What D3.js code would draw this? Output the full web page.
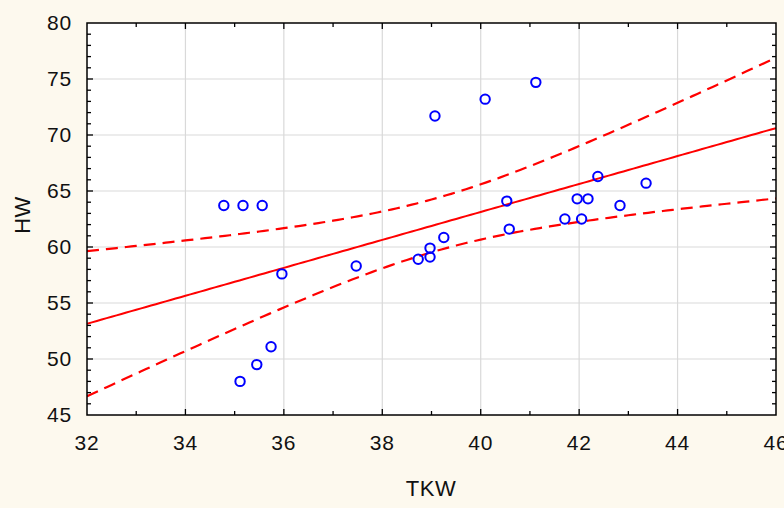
<!DOCTYPE html>
<html>
<head>
<meta charset="utf-8">
<script src="https://cdn.jsdelivr.net/npm/d3@7"></script>
<style>
  body { margin: 0; background: #fdf9ee; }
  svg { display: block; }
  text { font-family: "Liberation Sans", Arial, sans-serif; fill: #111; }
</style>
</head>
<body>
<svg id="chart" width="784" height="508"></svg>
<script>
// Data
const tkw = [34.78, 35.17, 35.56, 35.96, 35.11, 35.45, 35.74, 37.47,
             38.73, 38.97, 38.97, 39.25, 39.07, 40.09, 41.12, 40.53,
             40.58, 41.71, 42.05, 41.96, 42.18, 42.38, 42.83, 43.36];
const hw  = [63.7, 63.7, 63.7, 57.6, 48.0, 49.5, 51.1, 58.3,
             58.9, 59.9, 59.1, 60.85, 71.7, 73.2, 74.7, 64.1,
             61.6, 62.5, 62.5, 64.3, 64.3, 66.3, 63.7, 65.7];
const xTicks = [32, 34, 36, 38, 40, 42, 44, 46];
const yTicks = [45, 50, 55, 60, 65, 70, 75, 80];

const margin = {top: 23, right: 8, bottom: 93, left: 87};
const W = 784, H = 508;
const width = W - margin.left - margin.right;
const height = H - margin.top - margin.bottom;

const svg = d3.select('#chart');
const g = svg.append('g').attr('transform', `translate(${margin.left},${margin.top})`);

const x = d3.scaleLinear().domain([32, 46]).range([0, width]);
const y = d3.scaleLinear().domain([45, 80]).range([height, 0]);

// Plot area
g.append('rect').attr('width', width).attr('height', height).attr('fill', '#fff');

g.append('clipPath').attr('id', 'clip')
  .append('rect').attr('width', width).attr('height', height);

// Gridlines
g.append('g').selectAll('line').data(xTicks.slice(1, -1)).join('line')
  .attr('x1', d => x(d)).attr('x2', d => x(d)).attr('y1', 0).attr('y2', height)
  .attr('stroke', '#d9d9d9').attr('stroke-width', 1.2);
g.append('g').selectAll('line').data(yTicks.slice(1, -1)).join('line')
  .attr('y1', d => y(d)).attr('y2', d => y(d)).attr('x1', 0).attr('x2', width)
  .attr('stroke', '#d9d9d9').attr('stroke-width', 1.2);

// Linear regression with 95% confidence band for the mean
const n = tkw.length;
const mx = d3.mean(tkw), my = d3.mean(hw);
let sxx = 0, sxy = 0;
tkw.forEach((v, i) => { sxx += (v - mx) ** 2; sxy += (v - mx) * (hw[i] - my); });
const b = sxy / sxx, a = my - b * mx;
let sse = 0;
tkw.forEach((v, i) => { sse += (hw[i] - (a + b * v)) ** 2; });
const s = Math.sqrt(sse / (n - 2));
const tval = 2.074; // t(0.975, df = 22)
const grid = d3.range(32, 46.001, 0.1);
const band = grid.map(v => {
  const fit = a + b * v;
  const h = tval * s * Math.sqrt(1 / n + (v - mx) ** 2 / sxx);
  return {x: v, fit, lo: fit - h, hi: fit + h};
});

const plot = g.append('g').attr('clip-path', 'url(#clip)');
const line = key => d3.line().x(d => x(d.x)).y(d => y(d[key]));

plot.append('path').datum(band).attr('d', line('fit'))
  .attr('fill', 'none').attr('stroke', '#ff0000').attr('stroke-width', 2);
['hi', 'lo'].forEach(k => {
  plot.append('path').datum(band).attr('d', line(k))
    .attr('fill', 'none').attr('stroke', '#ff0000').attr('stroke-width', 2.2)
    .attr('stroke-dasharray', '12,7');
});

// Points
g.append('g').selectAll('circle').data(tkw).join('circle')
  .attr('cx', d => x(d)).attr('cy', (d, i) => y(hw[i])).attr('r', 4.7)
  .attr('fill', 'none').attr('stroke', '#0000ff').attr('stroke-width', 2);

// Frame and inward ticks
g.append('rect').attr('width', width).attr('height', height)
  .attr('fill', 'none').attr('stroke', '#000').attr('stroke-width', 1.5);

const xMinor = d3.range(33, 46, 1);
const yMinor = d3.range(46, 80, 1);
const tk = g.append('g').attr('stroke', '#000').attr('stroke-width', 1.3);
xMinor.forEach(v => {
  const len = v % 2 === 0 ? 6 : 4;
  tk.append('line').attr('x1', x(v)).attr('x2', x(v)).attr('y1', height).attr('y2', height - len);
  tk.append('line').attr('x1', x(v)).attr('x2', x(v)).attr('y1', 0).attr('y2', len);
});
yMinor.forEach(v => {
  const len = v % 5 === 0 ? 6 : 4;
  tk.append('line').attr('y1', y(v)).attr('y2', y(v)).attr('x1', 0).attr('x2', len);
  tk.append('line').attr('y1', y(v)).attr('y2', y(v)).attr('x1', width).attr('x2', width - len);
});

// Tick labels
g.append('g').selectAll('text').data(xTicks).join('text')
  .attr('x', d => x(d)).attr('y', height + 35)
  .attr('text-anchor', 'middle').style('font-size', '21px')
  .style('letter-spacing', '0.8px').text(d => d);
g.append('g').selectAll('text').data(yTicks).join('text')
  .attr('x', -15).attr('y', d => y(d)).attr('dy', '0.33em')
  .attr('text-anchor', 'end').style('font-size', '21px')
  .style('letter-spacing', '0.8px').text(d => d);

// Axis titles
svg.append('text').attr('x', 431).attr('y', 496)
  .attr('text-anchor', 'middle').style('font-size', '22px')
  .style('letter-spacing', '0.5px').text('TKW');
svg.append('text').attr('transform', `translate(30,${margin.top + height / 2 - 4}) rotate(-90)`)
  .attr('text-anchor', 'middle').style('font-size', '22px')
  .style('letter-spacing', '0.5px').text('HW');
</script>
</body>
</html>
